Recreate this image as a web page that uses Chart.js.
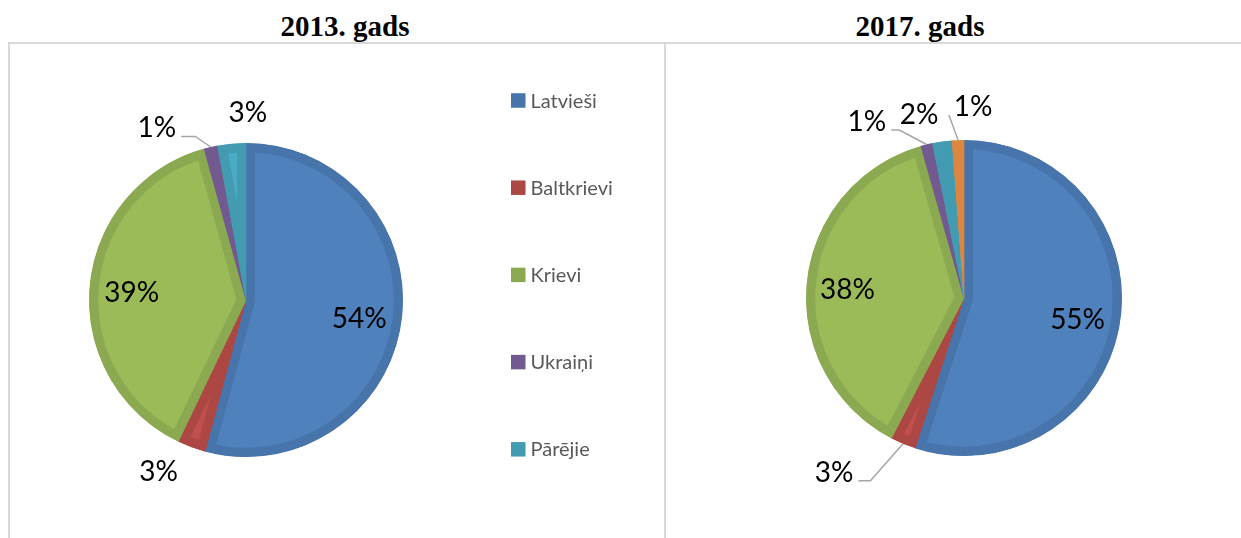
<!DOCTYPE html>
<html lang="lv">
<head>
<meta charset="utf-8">
<title>Tautības 2013. un 2017. gadā</title>
<script src="https://cdn.jsdelivr.net/npm/chart.js@4.4.0/dist/chart.umd.min.js"></script>
<style>
  html, body { margin: 0; padding: 0; background: #fff; }
  body { width: 1241px; height: 538px; position: relative; overflow: hidden; }
  .year {
    position: absolute; top: 12px; width: 300px; text-align: center;
    font: bold 29px/29px "Liberation Serif", "Times New Roman", serif; color: #000;
  }
  .frame-left {
    position: absolute; left: 8px; top: 42px; width: 658px; height: 520px;
    box-sizing: border-box; border: 2px solid #d9d9d9; border-bottom: none;
  }
  .frame-right {
    position: absolute; left: 666px; top: 42px; width: 600px; height: 10px;
    box-sizing: border-box; border-top: 2px solid #d9d9d9;
  }
  canvas { position: absolute; }
  #pie2013 { left: 10px; top: 44px; }
  #pie2017 { left: 667px; top: 44px; }
</style>
</head>
<body>
<div class="frame-left"></div>
<div class="frame-right"></div>
<div class="year" style="left:195px">2013. gads</div>
<div class="year" style="left:770px">2017. gads</div>
<canvas id="pie2013" width="654" height="494"></canvas>
<canvas id="pie2017" width="574" height="494"></canvas>

<script>
// Data (percent shares)
const categories2013 = ['Latvieši', 'Baltkrievi', 'Krievi', 'Ukraiņi', 'Pārējie'];
const shares2013 = [54.2, 2.9, 38.6, 1.4, 2.9];

const categories2017 = ['Latvieši', 'Baltkrievi', 'Krievi', 'Ukraiņi', 'Pārējie', ''];
const shares2017 = [55.0, 2.6, 38.0, 1.2, 2.0, 1.2];

// Office 2007 palette: slice face and its darker rim
const faceColors = ['#4F81BD', '#C0504D', '#9BBB59', '#8064A2', '#4BACC6', '#F79646'];
const rimColors = ['#4674AB', '#AC4744', '#8BA950', '#72598F', '#439BB2', '#DD863E'];

// label spot per slice: r = fraction of radius, da = turn from slice middle (deg)
const labelSpots2013 = [
    { r: 0.73, da: 1 },
    { r: 1.22, da: 6.8 },
    { r: 0.73, da: -1 },
    { r: 1.24, da: -14.3, leader: 'right', stub: 14 },
    { r: 1.2, da: 5.8 }
];
const labelSpots2017 = [
    { r: 0.73, da: 1 },
    { r: 1.37, da: 14.2, leader: 'right', stub: 12 },
    { r: 0.74, da: -1 },
    { r: 1.28, da: -15, leader: 'right', stub: 8 },
    { r: 1.2, da: -5.8 },
    { r: 1.22, da: 4.9, leader: 'left', stub: 0 }
];

// Percent labels (inside or outside, with grey leader lines like Excel)
const pieLabels = {
    id: 'pieLabels',
    afterDatasetsDraw(chart, args, opts) {
        const ctx = chart.ctx;
        const values = chart.data.datasets[0].data;
        const arcs = chart.getDatasetMeta(0).data;
        ctx.save();
        ctx.font = opts.font;
        ctx.fillStyle = opts.color;
        ctx.textAlign = 'center';
        ctx.textBaseline = 'alphabetic';
        arcs.forEach((arc, i) => {
            const spot = opts.spots[i];
            if (!spot) return;
            const { x, y, startAngle, endAngle, outerRadius } =
                arc.getProps(['x', 'y', 'startAngle', 'endAngle', 'outerRadius'], true);
            const mid = (startAngle + endAngle) / 2;
            const a = mid + spot.da * Math.PI / 180;
            const lx = x + Math.cos(a) * outerRadius * spot.r;
            const ly = y + Math.sin(a) * outerRadius * spot.r;
            const text = Math.round(values[i]) + '%';
            const m = ctx.measureText(text);
            const base = ly + m.actualBoundingBoxAscent / 2;
            ctx.fillText(text, lx, base);

            if (spot.leader) {
                const dir = spot.leader === 'right' ? 1 : -1;
                const sx = lx + dir * (m.width / 2 + 5);
                const sy = base - 1;
                ctx.beginPath();
                ctx.moveTo(sx, sy);
                ctx.lineTo(sx + dir * spot.stub, sy);
                ctx.lineTo(x + Math.cos(mid) * outerRadius, y + Math.sin(mid) * outerRadius);
                ctx.strokeStyle = opts.leaderColor;
                ctx.lineWidth = 1.5;
                ctx.stroke();
            }
        });
        ctx.restore();
    }
};

// Column legend with wide spacing, placed right of the pie
const sideLegend = {
    id: 'sideLegend',
    afterDraw(chart, args, opts) {
        if (!opts.show) return;
        const ctx = chart.ctx;
        const ds = chart.data.datasets[0];
        const x = chart.chartArea.right + opts.offsetX;
        ctx.save();
        ctx.font = opts.font;
        ctx.textAlign = 'left';
        ctx.textBaseline = 'alphabetic';
        const cap = ctx.measureText('H').actualBoundingBoxAscent;
        chart.data.labels.forEach((label, i) => {
            const cy = opts.top + i * opts.step;
            ctx.fillStyle = ds.borderColor[i];
            ctx.fillRect(x, cy - opts.box / 2, opts.box, opts.box);
            ctx.fillStyle = opts.color;
            ctx.fillText(label, x + opts.box + 5, cy + cap / 2);
        });
        ctx.restore();
    }
};

function makePie(canvasId, labels, values, spots, padding, legend) {
    const ctx = document.getElementById(canvasId).getContext('2d');
    return new Chart(ctx, {
        type: 'pie',
        data: {
            labels: labels,
            datasets: [{
                data: values,
                backgroundColor: faceColors.slice(0, values.length),
                borderColor: rimColors.slice(0, values.length),
                borderWidth: 9,
                borderAlign: 'inner',
                hoverOffset: 0
            }]
        },
        plugins: [pieLabels, sideLegend],
        options: {
            responsive: false,
            animation: false,
            events: [],
            layout: { padding: padding },
            plugins: {
                legend: { display: false },
                tooltip: { enabled: false },
                pieLabels: {
                    spots: spots,
                    font: '28px Lato, "Open Sans", sans-serif',
                    color: '#000000',
                    leaderColor: '#A6A6A6'
                },
                sideLegend: legend
            }
        }
    });
}

makePie('pie2013', categories2013, shares2013, labelSpots2013,
    { top: 99, bottom: 81, left: 0, right: 182 },
    {
        show: true,
        offsetX: 29,
        top: 56.5,
        step: 87.2,
        box: 14.5,
        font: '20px Lato, "Open Sans", sans-serif',
        color: '#595959'
    });

makePie('pie2017', categories2017, shares2017, labelSpots2017,
    { top: 96, bottom: 82, left: 101, right: 81 },
    { show: false });
</script>
</body>
</html>
